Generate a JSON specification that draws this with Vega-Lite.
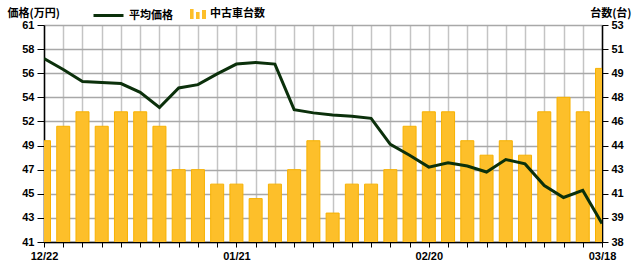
{
  "$schema": "https://vega.github.io/schema/vega-lite/v6.json",
  "autosize": {"type": "none"},
  "padding": {"left": 44, "top": 25, "right": 38, "bottom": 23},
  "width": 558,
  "height": 217,
  "background": "#ffffff",
  "config": {
    "view": {"stroke": null},
    "axis": {"labelFont": "Liberation Sans", "labelFontWeight": "bold", "labelFontSize": 11, "labelColor": "#000000", "titleFont": "Noto Sans CJK JP", "titleFontWeight": "bold", "titleFontSize": 11, "titleColor": "#000000"},
    "legend": {"labelFont": "Noto Sans CJK JP", "labelFontWeight": "bold", "labelFontSize": 11, "labelColor": "#000000", "padding": 0}
  },
  "data": {"values": [
    {"date": "12/22", "price": 57.9, "count": 45},
    {"date": "12/25", "price": 56.9, "count": 46},
    {"date": "12/28", "price": 55.8, "count": 47},
    {"date": "12/31", "price": 55.7, "count": 46},
    {"date": "01/03", "price": 55.6, "count": 47},
    {"date": "01/06", "price": 54.8, "count": 47},
    {"date": "01/09", "price": 53.4, "count": 46},
    {"date": "01/12", "price": 55.2, "count": 43},
    {"date": "01/15", "price": 55.5, "count": 43},
    {"date": "01/18", "price": 56.5, "count": 42},
    {"date": "01/21", "price": 57.4, "count": 42},
    {"date": "01/24", "price": 57.55, "count": 41},
    {"date": "01/27", "price": 57.4, "count": 42},
    {"date": "01/30", "price": 53.2, "count": 43},
    {"date": "02/02", "price": 52.9, "count": 45},
    {"date": "02/05", "price": 52.7, "count": 40},
    {"date": "02/08", "price": 52.6, "count": 42},
    {"date": "02/11", "price": 52.4, "count": 42},
    {"date": "02/14", "price": 50.0, "count": 43},
    {"date": "02/17", "price": 49.0, "count": 46},
    {"date": "02/20", "price": 47.9, "count": 47},
    {"date": "02/23", "price": 48.3, "count": 47},
    {"date": "02/26", "price": 48.0, "count": 45},
    {"date": "02/29", "price": 47.45, "count": 44},
    {"date": "03/03", "price": 48.6, "count": 45},
    {"date": "03/06", "price": 48.2, "count": 44},
    {"date": "03/09", "price": 46.2, "count": 47},
    {"date": "03/12", "price": 45.1, "count": 48},
    {"date": "03/15", "price": 45.75, "count": 47},
    {"date": "03/18", "price": 42.7, "count": 50}
  ]},
  "encoding": {
    "x": {
      "field": "date", "type": "ordinal", "sort": null,
      "scale": {"type": "point", "padding": 0},
      "axis": {
        "title": null, "labelAngle": 0, "labelDx": -5, "labelPadding": 3,
        "labelExpr": "(datum.value == '12/22' || datum.value == '01/21' || datum.value == '02/20' || datum.value == '03/18') ? datum.value : ''",
        "tickSize": 5, "tickColor": "#000000", "domainColor": "#000000", "domainWidth": 1.5,
        "grid": true, "gridColor": "#c4c4c4", "gridWidth": 1.5, "zindex": 0
      }
    }
  },
  "layer": [
    {
      "mark": {"type": "bar", "width": 13, "clip": true, "stroke": "#f7b100", "strokeWidth": 1},
      "encoding": {
        "y": {
          "field": "count", "type": "quantitative",
          "scale": {"domain": [38, 53], "zero": false, "nice": false},
          "axis": {
            "orient": "right", "values": [38, 39.6667, 41.3333, 43, 44.6667, 46.3333, 48, 49.6667, 51.3333, 53],
            "labelExpr": "floor(datum.value + 0.0001)", "grid": false,
            "tickSize": 6, "tickColor": "#000000", "domainColor": "#000000", "domainWidth": 1.5, "labelPadding": 3,
            "title": "台数(台)", "titleAngle": 0, "titleAlign": "right", "titleBaseline": "middle", "titleX": 29, "titleY": -12
          }
        },
        "fill": {
          "datum": "中古車台数", "type": "nominal",
          "scale": {"range": ["#fdbf2a"]},
          "legend": {
            "title": null, "orient": "none", "legendX": 146, "legendY": -19,
            "symbolType": "M-1,-0.625H-0.55V0.625H-1Z M-0.25,-0.25H0.2V0.625H-0.25Z M0.5,-0.5H1V0.625H0.5Z",
            "symbolSize": 256, "symbolStrokeWidth": 0,
            "encode": {"symbols": {"update": {"fill": {"value": "#ff9200"}, "stroke": {"value": "transparent"}}}}
          }
        }
      }
    },
    {
      "mark": {"type": "line", "strokeWidth": 3, "clip": true},
      "encoding": {
        "y": {
          "field": "price", "type": "quantitative",
          "scale": {"domain": [41, 61], "zero": false, "nice": false},
          "axis": {
            "orient": "left", "values": [41, 43.2222, 45.4444, 47.6667, 49.8889, 52.1111, 54.3333, 56.5556, 58.7778, 61],
            "labelExpr": "floor(datum.value + 0.0001)",
            "grid": true, "gridColor": "#a8a8a8", "gridWidth": 1.5,
            "tickSize": 7, "tickColor": "#000000", "domainColor": "#000000", "domainWidth": 1.5, "labelPadding": 3,
            "title": "価格(万円)", "titleAngle": 0, "titleAlign": "left", "titleBaseline": "middle", "titleX": -37, "titleY": -12
          }
        },
        "stroke": {
          "datum": "平均価格", "type": "nominal",
          "scale": {"range": ["#0b300b"]},
          "legend": {
            "title": null, "orient": "none", "legendX": 48, "legendY": -26,
            "symbolType": "stroke", "symbolSize": 900, "symbolStrokeWidth": 3
          }
        }
      }
    }
  ],
  "resolve": {"scale": {"y": "independent"}}
}
